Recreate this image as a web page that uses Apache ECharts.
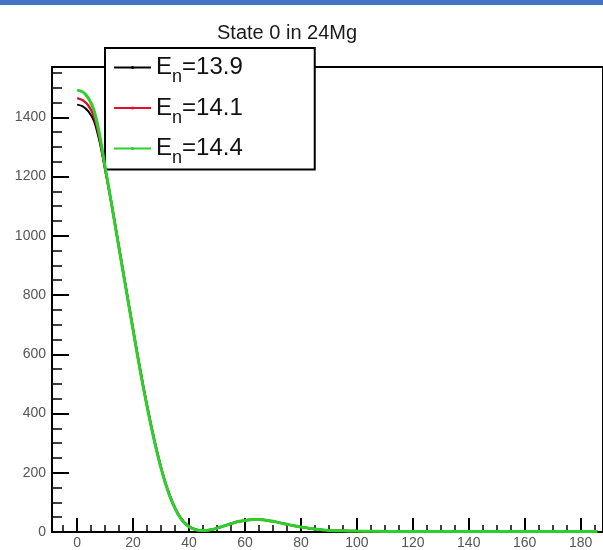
<!DOCTYPE html>
<html>
<head>
<meta charset="utf-8">
<script src="https://cdn.jsdelivr.net/npm/echarts@6/dist/echarts.min.js"></script>
<style>html,body{margin:0;padding:0;background:#fff;}#c{width:603px;height:550px;}</style>
</head>
<body>
<div id="c"></div>
<script>
// ---- data ----
const angles = [0,2,4,6,8,10,12,14,16,18,20,22,24,26,28,30,32,34,36,38,40,42,44,46,48,50,52,54,56,58,60,62,64,66,68,70,72,74,76,78,80,82,84,86,88,90,95,100,105,110,115,120,125,130,135,140,145,150,155,160,165,170,175,180,186];
const sigma139 = [1443,1437,1420,1388,1318,1222,1124,1014,904,794,684,576,474,380,294,218,153,102,63,36,19,10,6,5,8,13,19,25,31,36,39,41,42,41,39,36,32,28,24,20,17,14,11,9,7,5,4,3,2.5,2,2,2,2,2,2,2,2,2,2,2,2,2,2,2,2];
const sigma141 = [1465,1458,1440,1404,1330,1227,1123,1013,903,793,683,575,473,379,293,217,152,101,62,35,18,9,5,5,8,13,19,25,31,36,39,41,42,41,39,36,32,28,24,20,17,14,11,9,7,5,4,3,2.5,2,2,2,2,2,2,2,2,2,2,2,2,2,2,2,2];
const sigma144 = [1492,1486,1465,1424,1343,1232,1124,1012,901,791,681,573,471,377,291,215,151,100,61,34,18,9,5,5,8,13,19,25,31,36,39,41,42,41,39,36,32,28,24,20,17,14,11,9,7,5,4,3,2.5,2,2,2,2,2,2,2,2,2,2,2,2,2,2,2,2];
const energies = ['13.9', '14.1', '14.4'];
const xMajor = [0,20,40,60,80,100,120,140,160,180];
const xMinor = [-5,5,10,15,25,30,35,45,50,55,65,70,75,85,90,95,105,110,115,125,130,135,145,150,155,165,170,175,185];
const yMajor = [0,200,400,600,800,1000,1200,1400];
const yMinor = [50,100,150,250,300,350,450,500,550,650,700,750,850,900,950,1050,1100,1150,1250,1300,1350,1450,1500,1550];
const titleText = 'State 0 in 24Mg';

// ---- chart ----
const FONT = "'Liberation Sans', Arial, Helvetica, sans-serif";
const colors = ['#000000', '#e0102c', '#2ccf2c'];
const widths = [2, 2.5, 3];
const seriesData = [sigma139, sigma141, sigma144];
const names = energies.map(e => 'En=' + e);

const chart = echarts.init(document.getElementById('c'), null, {renderer: 'canvas'});

const xRange = {min: -9, max: 188};
const yRange = {min: 0, max: 1570};

const option = {
  backgroundColor: '#ffffff',
  animation: false,
  title: {
    text: titleText, left: 217, top: 23, padding: 0,
    textStyle: {fontSize: 20, fontWeight: 'normal', color: '#1a1a1a', fontFamily: FONT, lineHeight: 20}
  },
  graphic: [{
    type: 'rect', left: 0, top: 0, shape: {width: 603, height: 5}, style: {fill: '#4472c4'}
  }],
  grid: {left: 52, top: 67, right: -6, bottom: 18, show: true, borderColor: '#000', borderWidth: 2, backgroundColor: 'transparent'},
  legend: {
    orient: 'vertical', left: 105, top: 48, padding: [7.5, 72, 2, 8], itemGap: 9.5,
    itemWidth: 37, itemHeight: 4,
    backgroundColor: '#fff', borderColor: '#000', borderWidth: 2,
    data: names.map((n, i) => ({name: n, itemStyle: {color: colors[i]}, lineStyle: {color: colors[i], width: 2}})),
    formatter: function (name) { return '{e|E}{s|n}{v|=' + name.split('=')[1] + '}'; },
    textStyle: {
      rich: {
        e: {fontSize: 24, lineHeight: 30, fontFamily: FONT, color: '#111'},
        s: {fontSize: 18, height: 2, lineHeight: 2, padding: [20, 0, 0, 0], fontFamily: FONT, color: '#111'},
        v: {fontSize: 24, lineHeight: 30, fontFamily: FONT, color: '#111'}
      }
    }
  },
  xAxis: [{
    type: 'value', min: xRange.min, max: xRange.max, position: 'bottom',
    axisLine: {onZero: false, lineStyle: {color: '#000', width: 2}},
    axisTick: {inside: true, length: 14, customValues: xMajor, lineStyle: {color: '#000', width: 2}},
    axisLabel: {customValues: xMajor, margin: 4, fontSize: 14, color: '#555', fontFamily: FONT, formatter: v => String(v)},
    splitLine: {show: false}
  }, {
    type: 'value', min: xRange.min, max: xRange.max, position: 'bottom',
    axisLine: {show: false, onZero: false},
    axisTick: {inside: true, length: 7, customValues: xMinor, lineStyle: {color: '#000', width: 1.5}},
    axisLabel: {show: false},
    splitLine: {show: false}
  }],
  yAxis: [{
    type: 'value', min: yRange.min, max: yRange.max, position: 'left',
    axisLine: {show: true, onZero: false, lineStyle: {color: '#000', width: 2}},
    axisTick: {show: true, inside: true, length: 17, customValues: yMajor, lineStyle: {color: '#000', width: 2}},
    axisLabel: {customValues: yMajor, margin: 6, fontSize: 14, color: '#555', fontFamily: FONT, formatter: v => String(v)},
    splitLine: {show: false}
  }, {
    type: 'value', min: yRange.min, max: yRange.max, position: 'left', offset: 0,
    axisLine: {show: false, onZero: false},
    axisTick: {show: true, inside: true, length: 10, customValues: yMinor, lineStyle: {color: '#000', width: 1.5}},
    axisLabel: {show: false},
    splitLine: {show: false}
  }],
  series: seriesData.map((vals, i) => ({
    name: names[i], type: 'line', xAxisIndex: 0, yAxisIndex: 0,
    data: angles.map((a, k) => [a, vals[k]]),
    smooth: 0.3, showSymbol: false,
    symbol: i === 0 ? 'none' : 'circle', symbolSize: 3,
    lineStyle: {color: colors[i], width: widths[i]},
    itemStyle: {color: colors[i]},
    z: 2 + i
  }))
};
chart.setOption(option);
</script>
</body>
</html>
